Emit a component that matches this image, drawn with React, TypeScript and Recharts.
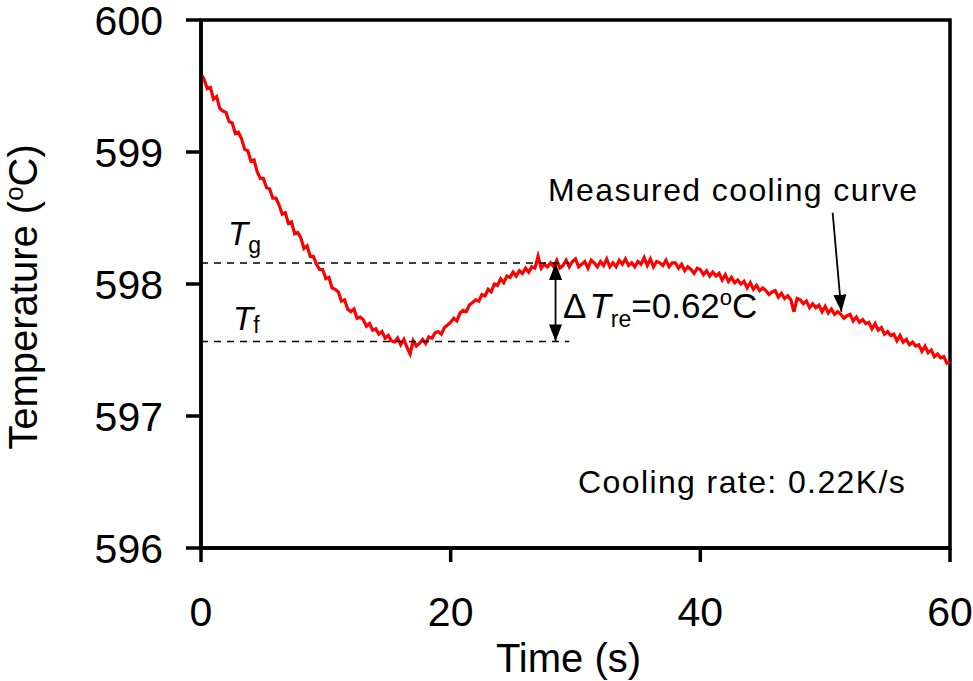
/* Measured cooling curve with recalescence: Tf (min) and Tg (plateau) guides,
   ΔTre annotation. Frame drawn as a reference area so the plot is boxed. */

import { Label, Line, LineChart, ReferenceArea, ReferenceDot, ReferenceLine, XAxis, YAxis } from "recharts";

const FONT = '"Liberation Sans", Arial, Helvetica, sans-serif';

const X_TICKS = [0, 20, 40, 60];
const Y_TICKS = [596, 597, 598, 599, 600];

const TIME_STEP = 0.25; // s between logged samples

// temperature (°C), one row per second
const TEMPS = [
  599.59, 599.55, 599.48, 599.49,
  599.40, 599.42, 599.33, 599.31,
  599.30, 599.23, 599.22, 599.14,
  599.15, 599.10, 599.02, 599.01,
  598.93, 598.94, 598.85, 598.80,
  598.80, 598.73, 598.72, 598.65,
  598.65, 598.60, 598.53, 598.54,
  598.46, 598.47, 598.38, 598.39,
  598.35, 598.27, 598.29, 598.21,
  598.21, 598.15, 598.11, 598.11,
  598.04, 598.05, 597.97, 597.96,
  597.94, 597.87, 597.88, 597.81,
  597.79, 597.81, 597.74, 597.75,
  597.73, 597.68, 597.70, 597.65,
  597.66, 597.62, 597.64, 597.59,
  597.61, 597.57, 597.56, 597.59,
  597.54, 597.58, 597.52, 597.47,
  597.57, 597.53, 597.55, 597.58,
  597.55, 597.60, 597.59, 597.63,
  597.64, 597.62, 597.67, 597.69,
  597.71, 597.74, 597.72, 597.78,
  597.80, 597.79, 597.84, 597.86,
  597.88, 597.87, 597.92, 597.91,
  597.96, 597.94, 598.00, 597.99,
  598.04, 598.01, 598.06, 598.05,
  598.09, 598.06, 598.10, 598.08,
  598.12, 598.09, 598.13, 598.12,
  598.21, 598.12, 598.15, 598.13,
  598.16, 598.13, 598.18, 598.12,
  598.14, 598.18, 598.13, 598.17,
  598.19, 598.13, 598.15, 598.17,
  598.12, 598.18, 598.16, 598.13,
  598.17, 598.14, 598.19, 598.13,
  598.16, 598.13, 598.18, 598.15,
  598.19, 598.14, 598.16, 598.13,
  598.17, 598.15, 598.20, 598.14,
  598.19, 598.13, 598.17, 598.16,
  598.14, 598.18, 598.13, 598.16,
  598.16, 598.12, 598.15, 598.10,
  598.13, 598.11, 598.08, 598.12,
  598.11, 598.07, 598.10, 598.06,
  598.09, 598.06, 598.08, 598.03,
  598.07, 598.02, 598.05, 598.01,
  598.03, 598.00, 598.02, 597.97,
  598.01, 597.96, 597.99, 597.95,
  597.97, 597.95, 597.92, 597.94,
  597.95, 597.90, 597.93, 597.89,
  597.91, 597.88, 597.79, 597.89,
  597.88, 597.85, 597.87, 597.82,
  597.85, 597.82, 597.84, 597.79,
  597.83, 597.78, 597.81, 597.77,
  597.79, 597.77, 597.74, 597.76,
  597.77, 597.72, 597.75, 597.71,
  597.73, 597.70, 597.71, 597.66,
  597.70, 597.65, 597.67, 597.62,
  597.64, 597.61, 597.62, 597.57,
  597.61, 597.56, 597.58, 597.54,
  597.56, 597.53, 597.54, 597.49,
  597.53, 597.48, 597.50, 597.45,
  597.47, 597.44, 597.45, 597.40,
  597.41,
];

const T_G = 598.16; // growth (plateau) temperature
const T_F = 597.565; // minimum before recalescence
const GUIDE_END = 29.5; // s, where the dashed guides stop
const DT_AT = 28.4; // s, position of the ΔT double arrow
const CURVE_ARROW = [
  { x: 50.6, y: 598.54 },
  { x: 51.3, y: 597.79 },
];

const data = TEMPS.map((T, i) => ({ t: i * TIME_STEP, T }));

function Arrow(p: any) {
  const id = p.both ? "ah2" : "ah1";
  return (
    <g>
      <defs>
        <marker id={id} viewBox="0 0 17 13" refX={17} refY={6.5} markerWidth={17} markerHeight={13} markerUnits="userSpaceOnUse" orient="auto-start-reverse">
          <path d="M0,0 L17,6.5 L0,13 z" fill="#000" />
        </marker>
      </defs>
      <line x1={p.x1} y1={p.y1} x2={p.x2} y2={p.y2} stroke="#000" strokeWidth={1.8} markerEnd={`url(#${id})`} markerStart={p.both ? `url(#${id})` : undefined} />
    </g>
  );
}

const txt = { fontFamily: FONT, fill: "#000" };

export default function App() {
  return (
    <div style={{ position: "absolute", left: 0, top: 0, background: "#fff", fontFamily: FONT }}>
      <LineChart width={973} height={681} data={data} margin={{ top: 20, right: 23, left: 101, bottom: 73 }}>
        <XAxis
          dataKey="t"
          type="number"
          domain={[0, 60]}
          ticks={X_TICKS}
          interval={0}
          height={60}
          tickSize={14}
          tickMargin={35}
          axisLine={{ stroke: "#000", strokeWidth: 3.5 }}
          tickLine={{ stroke: "#000", strokeWidth: 3.5 }}
          tick={{ fontSize: 41, fill: "#000", fontFamily: FONT }}
        >
          <Label
            content={(p: any) => (
              <text x={p.viewBox.x + p.viewBox.width / 2 - 7} y={p.viewBox.y + 124} textAnchor="middle" fontSize={40} {...txt}>
                Time (s)
              </text>
            )}
          />
        </XAxis>
        <YAxis
          type="number"
          domain={[596, 600]}
          ticks={Y_TICKS}
          interval={0}
          width={100}
          tickSize={15}
          tickMargin={23}
          axisLine={{ stroke: "#000", strokeWidth: 3.5 }}
          tickLine={{ stroke: "#000", strokeWidth: 3.5 }}
          tick={{ fontSize: 41, fill: "#000", fontFamily: FONT }}
        >
          <Label
            content={(p: any) => {
              const x = p.viewBox.x - 64;
              const y = p.viewBox.y + p.viewBox.height / 2 + 13;
              return (
                <text x={x} y={y} transform={`rotate(-90, ${x}, ${y})`} textAnchor="middle" fontSize={40} {...txt}>
                  Temperature (<tspan fontSize={26} dy={-14}>o</tspan>
                  <tspan dy={14}>C)</tspan>
                </text>
              );
            }}
          />
        </YAxis>

        <ReferenceArea x1={0} x2={60} y1={596} y2={600} fill="none" stroke="#000" strokeWidth={3.5} />

        <Line type="linear" dataKey="T" stroke="#ff0000" strokeWidth={3.2} dot={false} activeDot={false} isAnimationActive={false} />

        <ReferenceLine segment={[{ x: 0, y: T_G }, { x: GUIDE_END, y: T_G }]} stroke="#000" strokeWidth={1.5} strokeDasharray="7 6" />
        <ReferenceLine segment={[{ x: 0, y: T_F }, { x: GUIDE_END, y: T_F }]} stroke="#000" strokeWidth={1.5} strokeDasharray="7 6" />
        <ReferenceLine segment={[{ x: DT_AT, y: T_G }, { x: DT_AT, y: T_F }]} shape={(p: any) => <Arrow {...p} both />} />
        <ReferenceLine segment={CURVE_ARROW} shape={(p: any) => <Arrow {...p} />} />

        <ReferenceDot
          x={2.16}
          y={598.295}
          r={0}
          shape={(p: any) => (
            <text x={p.cx} y={p.cy} fontSize={33} {...txt}>
              <tspan fontStyle="italic">T</tspan>
              <tspan fontSize={23} dy={8}>g</tspan>
            </text>
          )}
        />
        <ReferenceDot
          x={2.56}
          y={597.652}
          r={0}
          shape={(p: any) => (
            <text x={p.cx} y={p.cy} fontSize={33} {...txt}>
              <tspan fontStyle="italic">T</tspan>
              <tspan fontSize={23} dy={3}>f</tspan>
            </text>
          )}
        />
        <ReferenceDot
          x={29.0}
          y={597.742}
          r={0}
          shape={(p: any) => (
            <text x={p.cx} y={p.cy} fontSize={35} {...txt}>
              Δ<tspan fontStyle="italic" dx={3}>T</tspan>
              <tspan fontSize={23} dy={9}>re</tspan>
              <tspan dy={-9}>=0.62</tspan>
              <tspan fontSize={22} dy={-13}>o</tspan>
              <tspan dy={13}>C</tspan>
            </text>
          )}
        />
        <ReferenceDot
          x={27.8}
          y={598.629}
          r={0}
          shape={(p: any) => (
            <text x={p.cx} y={p.cy} fontSize={32} letterSpacing={1.4} {...txt}>
              Measured cooling curve
            </text>
          )}
        />
        <ReferenceDot
          x={30.2}
          y={596.417}
          r={0}
          shape={(p: any) => (
            <text x={p.cx} y={p.cy} fontSize={32} letterSpacing={1.4} {...txt}>
              Cooling rate: 0.22K/s
            </text>
          )}
        />
      </LineChart>
    </div>
  );
}
